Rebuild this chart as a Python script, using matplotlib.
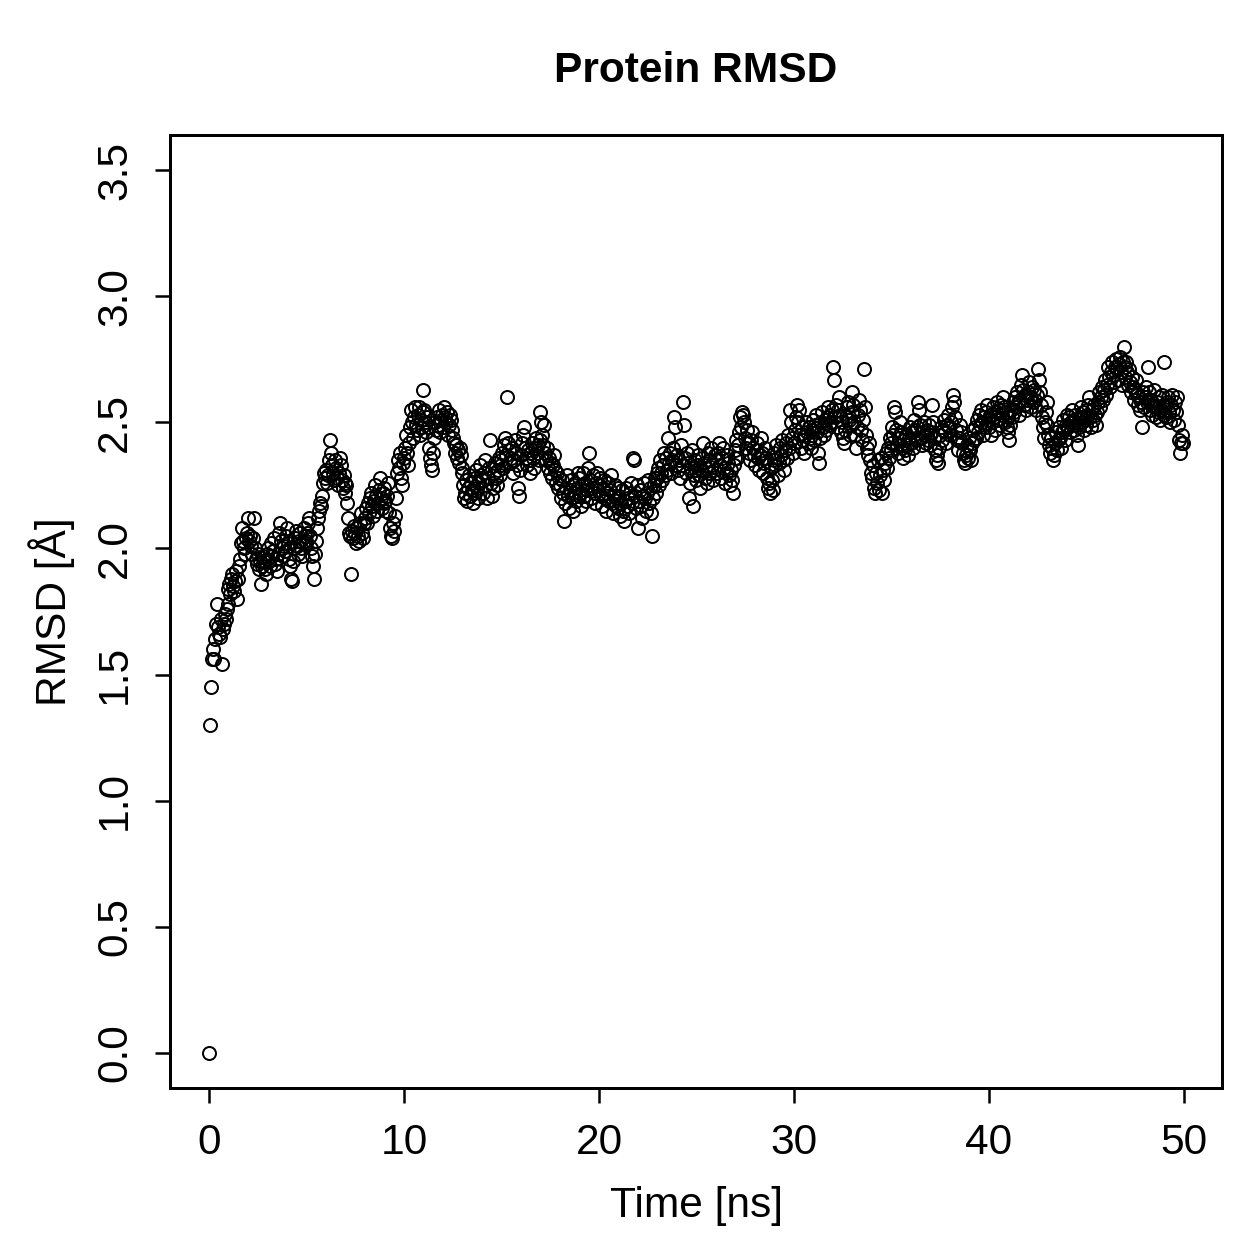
import numpy as np
import matplotlib
matplotlib.use('Agg')
import matplotlib.pyplot as plt

plt.rcParams['font.family'] = ['Liberation Sans', 'DejaVu Sans']

# frame spacing of the trajectory (ns)
frame_step = 0.05

# RMSD values (Angstrom), one frame every 0.05 ns, 20 frames per row (1 ns)
rmsd_0_10 = [
    0.00, 1.30, 1.45, 1.56, 1.60, 1.56, 1.64, 1.70, 1.78, 1.69, 1.66, 1.65, 1.72, 1.54, 1.68, 1.70, 1.74, 1.72, 1.76, 1.78,
    1.84, 1.86, 1.82, 1.88, 1.90, 1.85, 1.83, 1.87, 1.91, 1.80, 1.88, 1.93, 1.96, 2.02, 2.08, 2.03, 2.00, 1.98, 2.04, 2.06,
    2.12, 2.03, 2.05, 2.01, 1.98, 2.04, 2.12, 2.00, 1.96, 1.94, 1.98, 1.92, 1.95, 1.86, 1.93, 1.97, 1.95, 1.92, 1.90, 1.96,
    1.98, 2.00, 1.95, 1.93, 2.02, 1.97, 1.99, 2.04, 1.94, 1.96, 1.91, 1.98, 2.06, 2.10, 2.03, 2.00, 1.97, 2.01, 1.99, 2.05,
    2.08, 2.02, 1.96, 1.93, 1.88, 1.87, 1.95, 2.00, 2.04, 2.07, 2.01, 1.98, 2.03, 2.06, 2.00, 1.97, 2.02, 2.08, 2.05, 2.03,
    2.02, 2.06, 2.10, 2.12, 2.05, 2.00, 1.97, 1.93, 1.88, 1.98, 2.03, 2.08, 2.12, 2.15, 2.18, 2.17, 2.21, 2.26, 2.30, 2.28,
    2.31, 2.26, 2.29, 2.35, 2.43, 2.38, 2.33, 2.30, 2.27, 2.35, 2.32, 2.28, 2.25, 2.30, 2.36, 2.33, 2.27, 2.24, 2.29, 2.26,
    2.22, 2.25, 2.18, 2.12, 2.06, 2.05, 1.90, 2.07, 2.04, 2.09, 2.06, 2.02, 2.08, 2.05, 2.03, 2.10, 2.14, 2.06, 2.04, 2.10,
    2.12, 2.16, 2.10, 2.18, 2.14, 2.20, 2.22, 2.17, 2.13, 2.19, 2.25, 2.21, 2.15, 2.18, 2.23, 2.28, 2.20, 2.16, 2.22, 2.18,
    2.24, 2.19, 2.15, 2.21, 2.26, 2.14, 2.08, 2.05, 2.04, 2.10, 2.07, 2.13, 2.20, 2.30, 2.35, 2.32, 2.38, 2.28, 2.25, 2.34,
]
rmsd_10_20 = [
    2.36, 2.40, 2.45, 2.38, 2.33, 2.42, 2.48, 2.55, 2.50, 2.44, 2.52, 2.56, 2.49, 2.47, 2.53, 2.56, 2.45, 2.51, 2.48, 2.54,
    2.63, 2.55, 2.50, 2.46, 2.52, 2.48, 2.40, 2.36, 2.33, 2.31, 2.38, 2.44, 2.50, 2.47, 2.52, 2.49, 2.55, 2.46, 2.51, 2.53,
    2.48, 2.56, 2.52, 2.50, 2.54, 2.45, 2.49, 2.53, 2.51, 2.47, 2.44, 2.42, 2.38, 2.41, 2.36, 2.39, 2.34, 2.40, 2.37, 2.32,
    2.30, 2.25, 2.20, 2.22, 2.27, 2.19, 2.24, 2.29, 2.21, 2.26, 2.23, 2.18, 2.22, 2.28, 2.31, 2.24, 2.20, 2.26, 2.33, 2.29,
    2.27, 2.22, 2.30, 2.35, 2.25, 2.20, 2.28, 2.32, 2.43, 2.26, 2.21, 2.24, 2.30, 2.34, 2.28, 2.25, 2.31, 2.36, 2.29, 2.33,
    2.35, 2.38, 2.32, 2.41, 2.44, 2.37, 2.60, 2.42, 2.39, 2.34, 2.36, 2.40, 2.30, 2.35, 2.43, 2.38, 2.33, 2.24, 2.21, 2.31,
    2.37, 2.42, 2.45, 2.48, 2.40, 2.36, 2.33, 2.39, 2.35, 2.30, 2.38, 2.42, 2.36, 2.32, 2.40, 2.44, 2.38, 2.41, 2.35, 2.43,
    2.54, 2.50, 2.45, 2.41, 2.49, 2.38, 2.35, 2.40, 2.32, 2.36, 2.30, 2.34, 2.28, 2.33, 2.37, 2.31, 2.26, 2.30, 2.24, 2.28,
    2.25, 2.20, 2.27, 2.22, 2.11, 2.18, 2.24, 2.29, 2.21, 2.16, 2.23, 2.27, 2.20, 2.15, 2.22, 2.26, 2.19, 2.24, 2.30, 2.21,
    2.28, 2.22, 2.17, 2.25, 2.30, 2.21, 2.26, 2.19, 2.23, 2.32, 2.38, 2.27, 2.20, 2.24, 2.29, 2.22, 2.18, 2.26, 2.30, 2.23,
]
rmsd_20_30 = [
    2.25, 2.28, 2.21, 2.17, 2.24, 2.27, 2.20, 2.15, 2.22, 2.26, 2.19, 2.23, 2.29, 2.18, 2.14, 2.21, 2.25, 2.17, 2.20, 2.24,
    2.16, 2.21, 2.13, 2.18, 2.23, 2.15, 2.11, 2.19, 2.24, 2.17, 2.20, 2.14, 2.22, 2.26, 2.18, 2.36, 2.35, 2.21, 2.16, 2.25,
    2.08, 2.19, 2.23, 2.17, 2.12, 2.21, 2.26, 2.20, 2.15, 2.22, 2.27, 2.18, 2.24, 2.14, 2.05, 2.20, 2.25, 2.28, 2.22, 2.30,
    2.28, 2.32, 2.25, 2.35, 2.30, 2.27, 2.33, 2.38, 2.29, 2.36, 2.31, 2.44, 2.34, 2.38, 2.30, 2.35, 2.40, 2.52, 2.48, 2.33,
    2.37, 2.31, 2.35, 2.28, 2.41, 2.33, 2.58, 2.49, 2.36, 2.30, 2.38, 2.34, 2.20, 2.26, 2.32, 2.39, 2.17, 2.29, 2.35, 2.31,
    2.27, 2.33, 2.37, 2.29, 2.24, 2.31, 2.36, 2.42, 2.34, 2.28, 2.32, 2.26, 2.38, 2.30, 2.35, 2.40, 2.33, 2.27, 2.31, 2.37,
    2.35, 2.30, 2.38, 2.42, 2.33, 2.28, 2.36, 2.40, 2.32, 2.26, 2.30, 2.37, 2.34, 2.29, 2.25, 2.31, 2.27, 2.22, 2.33, 2.36,
    2.39, 2.43, 2.36, 2.41, 2.46, 2.52, 2.48, 2.54, 2.53, 2.50, 2.44, 2.40, 2.47, 2.42, 2.38, 2.35, 2.43, 2.46, 2.40, 2.37,
    2.33, 2.39, 2.42, 2.36, 2.31, 2.37, 2.44, 2.38, 2.30, 2.34, 2.40, 2.36, 2.28, 2.24, 2.26, 2.22, 2.32, 2.27, 2.23, 2.35,
    2.38, 2.33, 2.41, 2.36, 2.29, 2.34, 2.40, 2.37, 2.43, 2.35, 2.31, 2.39, 2.42, 2.36, 2.45, 2.40, 2.55, 2.50, 2.44, 2.38,
]
rmsd_30_40 = [
    2.42, 2.47, 2.52, 2.57, 2.50, 2.55, 2.45, 2.40, 2.48, 2.43, 2.38, 2.45, 2.50, 2.46, 2.42, 2.48, 2.44, 2.40, 2.47, 2.51,
    2.47, 2.43, 2.49, 2.53, 2.46, 2.38, 2.34, 2.44, 2.50, 2.54, 2.48, 2.45, 2.51, 2.47, 2.52, 2.56, 2.49, 2.53, 2.50, 2.55,
    2.72, 2.67, 2.52, 2.57, 2.48, 2.55, 2.60, 2.53, 2.46, 2.50, 2.44, 2.42, 2.47, 2.52, 2.56, 2.58, 2.51, 2.45, 2.49, 2.54,
    2.62, 2.57, 2.50, 2.45, 2.40, 2.48, 2.53, 2.59, 2.55, 2.47, 2.43, 2.51, 2.71, 2.56, 2.45, 2.40, 2.37, 2.42, 2.35, 2.30,
    2.28, 2.33, 2.24, 2.22, 2.30, 2.26, 2.35, 2.23, 2.29, 2.36, 2.22, 2.31, 2.27, 2.34, 2.38, 2.32, 2.40, 2.36, 2.44, 2.39,
    2.42, 2.48, 2.45, 2.56, 2.54, 2.47, 2.41, 2.38, 2.44, 2.50, 2.46, 2.40, 2.36, 2.43, 2.39, 2.45, 2.41, 2.37, 2.44, 2.48,
    2.42, 2.46, 2.40, 2.51, 2.47, 2.43, 2.48, 2.58, 2.55, 2.49, 2.44, 2.41, 2.46, 2.50, 2.45, 2.42, 2.47, 2.43, 2.49, 2.45,
    2.41, 2.46, 2.57, 2.50, 2.44, 2.39, 2.35, 2.37, 2.34, 2.40, 2.45, 2.48, 2.43, 2.47, 2.51, 2.46, 2.42, 2.49, 2.53, 2.48,
    2.45, 2.50, 2.56, 2.61, 2.58, 2.52, 2.47, 2.43, 2.39, 2.44, 2.49, 2.46, 2.42, 2.38, 2.35, 2.34, 2.37, 2.41, 2.36, 2.40,
    2.44, 2.39, 2.35, 2.42, 2.47, 2.43, 2.48, 2.44, 2.51, 2.46, 2.53, 2.49, 2.55, 2.50, 2.45, 2.52, 2.48, 2.54, 2.57, 2.51,
]
rmsd_40_50 = [
    2.48, 2.53, 2.45, 2.50, 2.56, 2.52, 2.47, 2.54, 2.58, 2.51, 2.55, 2.49, 2.57, 2.53, 2.60, 2.56, 2.50, 2.54, 2.48, 2.52,
    2.46, 2.43, 2.49, 2.55, 2.52, 2.58, 2.54, 2.60, 2.56, 2.62, 2.58, 2.53, 2.59, 2.65, 2.69, 2.63, 2.57, 2.61, 2.55, 2.59,
    2.62, 2.66, 2.60, 2.56, 2.64, 2.58, 2.63, 2.59, 2.55, 2.61, 2.71, 2.67, 2.62, 2.57, 2.52, 2.48, 2.44, 2.50, 2.54, 2.58,
    2.49, 2.45, 2.41, 2.38, 2.44, 2.40, 2.35, 2.37, 2.42, 2.46, 2.39, 2.43, 2.48, 2.44, 2.40, 2.46, 2.51, 2.47, 2.43, 2.49,
    2.53, 2.48, 2.52, 2.46, 2.50, 2.55, 2.51, 2.47, 2.53, 2.49, 2.45, 2.41, 2.48, 2.52, 2.56, 2.50, 2.54, 2.47, 2.51, 2.55,
    2.49, 2.53, 2.57, 2.60, 2.52, 2.48, 2.55, 2.51, 2.57, 2.53, 2.49, 2.54, 2.58, 2.62, 2.56, 2.60, 2.64, 2.59, 2.63, 2.67,
    2.61, 2.65, 2.72, 2.68, 2.64, 2.70, 2.74, 2.69, 2.66, 2.72, 2.75, 2.71, 2.67, 2.73, 2.76, 2.70, 2.65, 2.74, 2.80, 2.72,
    2.68, 2.74, 2.70, 2.65, 2.71, 2.66, 2.62, 2.68, 2.64, 2.59, 2.63, 2.67, 2.61, 2.57, 2.60, 2.55, 2.58, 2.48, 2.62, 2.56,
    2.60, 2.64, 2.58, 2.72, 2.62, 2.55, 2.59, 2.53, 2.57, 2.63, 2.56, 2.52, 2.58, 2.54, 2.60, 2.51, 2.55, 2.61, 2.57, 2.53,
    2.74, 2.56, 2.52, 2.58, 2.60, 2.54, 2.50, 2.57, 2.61, 2.55, 2.51, 2.58, 2.54, 2.60, 2.49, 2.43, 2.38, 2.42, 2.45, 2.42,
]

rmsd = np.array(rmsd_0_10 + rmsd_10_20 + rmsd_20_30 + rmsd_30_40 + rmsd_40_50)
time = np.arange(len(rmsd)) * frame_step

x_ticks = [0, 10, 20, 30, 40, 50]
y_ticks = [0.0, 0.5, 1.0, 1.5, 2.0, 2.5, 3.0, 3.5]

fig = plt.figure(figsize=(1259 / 180, 1259 / 180), dpi=180)
ax = fig.add_axes([170 / 1259, 1 - 1088 / 1259, (1222 - 170) / 1259, (1088 - 135) / 1259])

ax.plot(time, rmsd, 'o', markerfacecolor='none', markeredgecolor='black',
        markersize=5.2, markeredgewidth=0.8)

ax.set_xlim(-2.0, 51.95)
ax.set_ylim(-0.14, 3.64)
ax.set_xticks(x_ticks)
ax.set_xticklabels([str(v) for v in x_ticks])
ax.set_yticks(y_ticks)
ax.set_yticklabels(['%.1f' % v for v in y_ticks], rotation=90, va='center')

for s in ax.spines.values():
    s.set_linewidth(1.2)
ax.tick_params(direction='out', length=6, width=1.0, labelsize=17, pad=8)

ax.set_xlabel('Time [ns]', fontsize=17, labelpad=9)
ax.set_ylabel('RMSD [Å]', fontsize=17, labelpad=8)
ax.set_title('Protein RMSD', fontsize=17, fontweight='bold', pad=21)

fig.savefig('out.png', dpi=180)
